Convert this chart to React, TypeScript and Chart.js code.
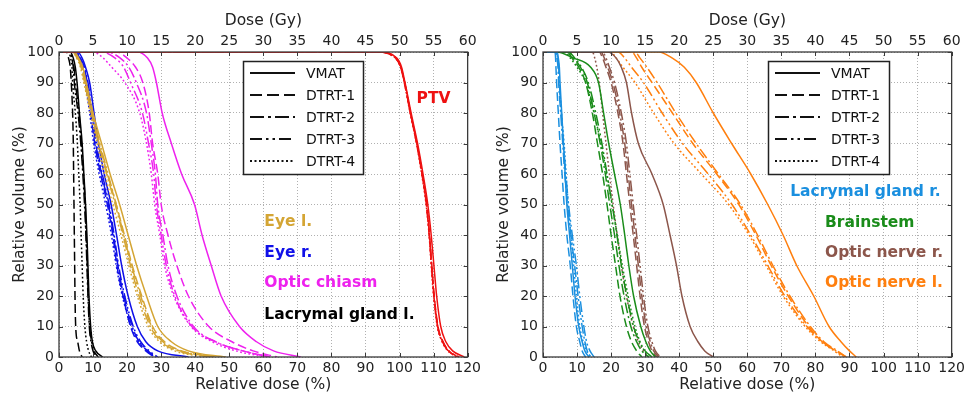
import React, { useEffect, useRef } from 'react';
import { Chart, registerables } from 'chart.js';

Chart.register(...registerables);

const FONT = '"DejaVu Sans", "Liberation Sans", sans-serif';

// ---------- DATA ----------
// Relative volume levels (%) at which doses are read, shared by every curve
const VOLUME_LEVELS = [100, 100, 98, 95, 90, 80, 70, 60, 50, 40, 30, 20, 10, 5, 2, 0];
const PLANS = ['VMAT', 'DTRT-1', 'DTRT-2', 'DTRT-3', 'DTRT-4'];
const X_TICKS_REL = [0, 120, 10];
const X_TICKS_GY = [0, 60, 5];
const Y_TICKS = [0, 100, 10];

// Relative dose (%) for each plan (rows in PLANS order)
const PTV_DOSE = [
  [0, 94, 99.2, 100.6, 101.6, 103.4, 105.3, 106.9, 108.3, 109.3, 110.1, 110.9, 112.1, 113.6, 115.6, 119],
  [0, 93, 98.8, 100.3, 101.4, 103.2, 105.0, 106.6, 107.9, 108.8, 109.5, 110.2, 111.3, 112.8, 114.5, 117.5],
  [0, 93.5, 99.0, 100.4, 101.5, 103.2, 105.1, 106.6, 107.9, 108.7, 109.4, 110.1, 111.2, 112.6, 114.3, 117],
  [0, 93.5, 99.0, 100.4, 101.5, 103.2, 105.1, 106.7, 108.0, 108.8, 109.4, 110.1, 111.2, 112.7, 114.5, 117.5],
  [0, 93, 98.8, 100.3, 101.4, 103.1, 105.0, 106.5, 107.8, 108.7, 109.3, 110.0, 111.1, 112.5, 114.2, 117],
];
const EYE_L_DOSE = [
  [0, 4.5, 5.8, 7.0, 8.0, 10.0, 12.5, 15.0, 17.8, 20.3, 22.8, 25.7, 29.0, 33.0, 38.0, 49.0],
  [0, 4.0, 5.3, 6.5, 7.5, 9.5, 11.8, 14.2, 16.8, 19.2, 21.5, 24.3, 27.5, 31.0, 36.0, 46.0],
  [0, 4.2, 5.5, 6.7, 7.7, 9.6, 11.6, 14.0, 16.5, 18.8, 21.0, 23.5, 26.8, 30.0, 35.0, 45.0],
  [0, 4.3, 5.6, 6.8, 7.8, 9.8, 12.0, 14.4, 16.8, 19.0, 21.3, 24.0, 27.2, 30.5, 35.5, 45.5],
  [0, 4.0, 5.2, 6.3, 7.3, 9.2, 11.2, 13.4, 15.8, 18.2, 20.5, 23.0, 26.2, 29.5, 34.0, 43.0],
];
const EYE_R_DOSE = [
  [0, 5.5, 6.8, 7.8, 9.0, 10.3, 11.6, 13.3, 15.3, 16.9, 18.4, 20.3, 23.0, 25.5, 29.0, 38.0],
  [0, 4.5, 5.8, 7.0, 8.0, 9.3, 10.5, 12.2, 14.2, 15.8, 17.0, 18.8, 21.0, 23.0, 25.5, 28.0],
  [0, 4.8, 6.1, 7.3, 8.3, 9.6, 10.8, 12.5, 14.5, 16.0, 17.3, 19.0, 21.5, 23.5, 26.0, 28.5],
  [0, 5.0, 6.3, 7.5, 8.5, 9.8, 11.0, 12.7, 14.7, 16.2, 17.5, 19.3, 21.8, 24.0, 26.5, 29.0],
  [0, 4.3, 5.6, 6.8, 7.7, 9.0, 10.2, 11.8, 13.7, 15.4, 16.8, 18.6, 21.2, 23.5, 26.0, 28.0],
];
const CHIASM_DOSE = [
  [0, 23, 26, 27.5, 28.6, 30.3, 33.0, 36.0, 39.8, 42.0, 44.7, 47.6, 53.0, 58.0, 63.0, 71.0],
  [0, 17, 20, 22.5, 24.6, 26.5, 27.5, 29.0, 30.0, 32.0, 34.6, 38.0, 44.0, 50.8, 57.0, 64.0],
  [0, 14, 18, 20.5, 22.7, 25.7, 27.1, 28.3, 29.0, 30.5, 32.0, 34.6, 39.5, 46.0, 54.0, 62.0],
  [0, 12.5, 16.5, 19.0, 21.0, 24.5, 26.3, 27.8, 28.6, 30.0, 31.5, 34.0, 39.0, 46.0, 54.0, 62.0],
  [0, 10, 13, 15.5, 19.3, 23.7, 25.7, 27.1, 28.1, 29.6, 31.0, 33.7, 38.8, 45.0, 52.0, 61.0],
];
const LACRIMAL_L_DOSE = [
  [0, 3.3, 4.2, 4.8, 5.3, 6.0, 6.8, 7.3, 7.8, 8.2, 8.5, 8.8, 9.3, 9.8, 10.8, 12.8],
  [0, 2.2, 2.8, 3.3, 3.6, 4.0, 4.2, 4.3, 4.4, 4.5, 4.6, 4.7, 4.9, 5.5, 6.0, 6.8],
  [0, 3.0, 3.7, 4.2, 4.5, 5.6, 6.4, 7.0, 7.5, 7.9, 8.2, 8.5, 8.9, 9.4, 10.0, 11.0],
  [0, 3.2, 3.9, 4.4, 4.8, 5.9, 6.6, 7.2, 7.7, 8.0, 8.3, 8.6, 9.0, 9.6, 10.3, 11.5],
  [0, 2.8, 3.4, 3.8, 4.0, 4.8, 5.4, 5.8, 6.2, 6.5, 6.8, 7.1, 7.6, 8.1, 8.7, 9.5],
];
const LACRIMAL_R_DOSE = [
  [0, 4.2, 4.5, 4.8, 5.0, 5.5, 6.0, 6.5, 7.0, 7.8, 8.6, 9.4, 10.5, 11.5, 12.3, 13.5],
  [0, 3.5, 3.7, 3.8, 4.0, 4.5, 5.0, 5.6, 6.2, 7.0, 8.0, 8.8, 9.8, 10.8, 11.5, 12.5],
  [0, 3.8, 4.1, 4.4, 4.6, 5.2, 5.8, 6.4, 7.2, 8.2, 9.3, 10.3, 11.5, 12.3, 13.0, 14.0],
  [0, 4.0, 4.3, 4.6, 4.8, 5.4, 6.0, 6.7, 7.5, 8.6, 9.8, 10.8, 12.0, 12.8, 13.8, 15.0],
  [0, 4.0, 4.3, 4.6, 4.8, 5.4, 6.2, 6.8, 7.4, 8.2, 9.0, 9.8, 10.8, 11.8, 12.8, 14.0],
];
const BRAINSTEM_DOSE = [
  [0, 4.0, 9.0, 14.0, 16.3, 17.8, 19.3, 21.0, 22.7, 24.0, 25.2, 26.6, 28.7, 30.2, 31.5, 33.0],
  [0, 7.0, 8.5, 10.5, 12.5, 14.5, 16.0, 17.5, 18.8, 20.0, 21.3, 22.6, 24.5, 26.0, 27.5, 29.0],
  [0, 7.5, 9.0, 11.0, 13.0, 15.0, 16.8, 18.3, 19.6, 21.0, 22.3, 23.8, 25.8, 27.5, 29.0, 31.0],
  [0, 7.5, 9.3, 11.3, 13.3, 15.5, 17.3, 18.8, 20.3, 21.7, 23.0, 24.6, 26.6, 28.3, 30.0, 32.0],
  [0, 6.5, 8.0, 10.0, 12.5, 15.0, 17.0, 18.7, 20.3, 21.8, 23.3, 25.0, 27.0, 28.5, 29.8, 31.0],
];
const OPTIC_NERVE_R_DOSE = [
  [0, 19, 21.5, 23.0, 24.5, 26.0, 28.0, 32.0, 35.3, 37.3, 39.2, 40.8, 43.2, 45.5, 47.5, 50.0],
  [0, 16.5, 17.5, 18.5, 20.0, 22.0, 23.5, 24.5, 25.5, 26.5, 27.5, 28.5, 29.8, 31.0, 32.0, 33.5],
  [0, 17.0, 18.0, 19.0, 20.5, 22.5, 24.0, 25.0, 26.0, 27.0, 28.0, 29.0, 30.3, 31.5, 32.5, 34.0],
  [0, 17.5, 18.5, 19.5, 21.0, 23.0, 24.5, 25.5, 26.5, 27.5, 28.5, 29.5, 30.8, 32.0, 33.0, 34.5],
  [0, 14.5, 15.2, 15.8, 16.5, 17.5, 18.5, 19.5, 20.6, 21.8, 23.0, 24.5, 26.5, 28.0, 29.5, 31.0],
];
const OPTIC_NERVE_L_DOSE = [
  [0, 34, 38, 41.5, 45.0, 50.0, 55.4, 61.0, 66.0, 70.5, 74.5, 79.5, 84.0, 87.5, 90.0, 92.0],
  [0, 26, 27.5, 29, 32, 38, 44, 51, 57.5, 62.5, 67, 72, 78, 82, 86, 89],
  [0, 27, 28.5, 30.5, 33.5, 39, 45, 51.5, 58, 63, 67.5, 72.5, 78.5, 82.5, 86.5, 89],
  [0, 22, 24, 26, 29.5, 35, 41, 48.5, 55.5, 61, 66, 71, 77.5, 82, 86, 89],
  [0, 20, 21.5, 23.5, 27, 32.5, 38.5, 46.5, 54.5, 60.5, 65.5, 70.5, 77, 81.5, 85.5, 88],
];

// ---------- STYLE ----------
const PLAN_DASH: number[][] = [[], [9, 4], [11, 3, 2, 3], [11, 3, 2, 3, 2, 3], [1.8, 2.4]];
const LEGEND_DASH: number[][] = [[], [12, 5], [14, 4, 3, 4], [12, 4, 2.5, 4, 2.5, 4], [2, 2.5]];

type Structure = { name: string; color: string; doses: number[][]; lx: number; ly: number };

const LEFT_STRUCTS: Structure[] = [
  { name: 'PTV', color: '#ee1111', doses: PTV_DOSE, lx: 105.0, ly: 84.6 },
  { name: 'Eye l.', color: '#d4a534', doses: EYE_L_DOSE, lx: 60.3, ly: 44.3 },
  { name: 'Eye r.', color: '#1010e8', doses: EYE_R_DOSE, lx: 60.3, ly: 34.1 },
  { name: 'Optic chiasm', color: '#ee22ee', doses: CHIASM_DOSE, lx: 60.3, ly: 24.3 },
  { name: 'Lacrymal gland l.', color: '#000000', doses: LACRIMAL_L_DOSE, lx: 60.3, ly: 13.8 },
];
const RIGHT_STRUCTS: Structure[] = [
  { name: 'Lacrymal gland r.', color: '#1a8fdf', doses: LACRIMAL_R_DOSE, lx: 72.6, ly: 54.1 },
  { name: 'Brainstem', color: '#1a8c1a', doses: BRAINSTEM_DOSE, lx: 82.8, ly: 44.1 },
  { name: 'Optic nerve r.', color: '#8c564b', doses: OPTIC_NERVE_R_DOSE, lx: 82.8, ly: 34.1 },
  { name: 'Optic nerve l.', color: '#ff7f0e', doses: OPTIC_NERVE_L_DOSE, lx: 82.8, ly: 24.3 },
];

const overlayPlugin = {
  id: 'dvhOverlay',
  afterDatasetsDraw(chart: any, _args: any, opts: any) {
    const { ctx, chartArea: a, scales } = chart;
    ctx.save();
    // frame
    ctx.strokeStyle = '#3a3a3a';
    ctx.lineWidth = 1.3;
    ctx.setLineDash([]);
    ctx.strokeRect(a.left, a.top, a.right - a.left, a.bottom - a.top);
    // inward ticks
    ctx.lineWidth = 1;
    ctx.beginPath();
    for (let v = X_TICKS_REL[0]; v <= X_TICKS_REL[1]; v += X_TICKS_REL[2]) {
      const px = Math.round(scales.x.getPixelForValue(v)) + 0.5;
      ctx.moveTo(px, a.bottom); ctx.lineTo(px, a.bottom - 4);
      ctx.moveTo(px, a.top); ctx.lineTo(px, a.top + 4);
    }
    for (let v = Y_TICKS[0]; v <= Y_TICKS[1]; v += Y_TICKS[2]) {
      const py = Math.round(scales.y.getPixelForValue(v)) + 0.5;
      ctx.moveTo(a.left, py); ctx.lineTo(a.left + 4, py);
      ctx.moveTo(a.right, py); ctx.lineTo(a.right - 4, py);
    }
    ctx.stroke();

    // structure labels
    ctx.font = `bold 15.5px ${FONT}`;
    ctx.textBaseline = 'middle';
    ctx.textAlign = 'left';
    (opts.structs as Structure[]).forEach((s) => {
      ctx.fillStyle = s.color;
      ctx.fillText(s.name, scales.x.getPixelForValue(s.lx), scales.y.getPixelForValue(s.ly));
    });

    // legend
    const bx = opts.legendLeft, by = opts.legendTop, bw = opts.legendWidth, bh = 113;
    ctx.fillStyle = '#ffffff';
    ctx.fillRect(bx, by, bw, bh);
    ctx.strokeStyle = '#222222';
    ctx.lineWidth = 1.5;
    ctx.strokeRect(bx + 0.5, by + 0.5, bw, bh);
    ctx.font = `14px ${FONT}`;
    ctx.fillStyle = '#111111';
    PLANS.forEach((p, i) => {
      const y = by + 12 + i * 22;
      ctx.strokeStyle = '#111111';
      ctx.lineWidth = 2;
      ctx.setLineDash(LEGEND_DASH[i]);
      ctx.beginPath();
      ctx.moveTo(bx + 7, y);
      ctx.lineTo(bx + 52, y);
      ctx.stroke();
      ctx.setLineDash([]);
      ctx.fillText(p, bx + 63, y + 1);
    });
    ctx.restore();
  },
};

function DVHChart({ structs, legendLeft, legendWidth }: { structs: Structure[]; legendLeft: number; legendWidth: number }) {
  const ref = useRef<HTMLCanvasElement | null>(null);
  useEffect(() => {
    if (!ref.current) return;
    const datasets: any[] = [];
    structs.forEach((s) =>
      s.doses.forEach((d, pi) =>
        datasets.push({
          label: `${s.name} ${PLANS[pi]}`,
          data: d.map((x, i) => ({ x, y: VOLUME_LEVELS[i] })),
          borderColor: s.color,
          borderWidth: 1.5,
          borderDash: PLAN_DASH[pi],
          pointRadius: 0,
          fill: false,
          cubicInterpolationMode: 'monotone',
        })
      )
    );
    const tickFont = { family: FONT, size: 14 };
    const titleFont = { family: FONT, size: 15.5 };
    const chart = new Chart(ref.current, {
      type: 'line',
      data: { datasets },
      plugins: [overlayPlugin],
      options: {
        animation: false,
        responsive: false,
        layout: { padding: { left: 0, right: 15, top: 0, bottom: 0 } },
        plugins: {
          legend: { display: false },
          tooltip: { enabled: false },
          dvhOverlay: { structs, legendLeft, legendTop: 61, legendWidth },
        } as any,
        scales: {
          x: {
            type: 'linear',
            position: 'bottom',
            min: X_TICKS_REL[0],
            max: X_TICKS_REL[1],
            ticks: { stepSize: X_TICKS_REL[2], font: tickFont, color: '#222', padding: 3, maxRotation: 0, autoSkip: false },
            grid: { color: '#b0b0b0', lineWidth: 1, drawTicks: false },
            border: { display: false, dash: [1, 2] },
            title: { display: true, text: 'Relative dose (%)', font: titleFont, color: '#222', padding: { top: 0, bottom: 3 } },
            afterFit: (s: any) => { s.height = 40; },
          },
          x2: {
            type: 'linear',
            position: 'top',
            min: X_TICKS_GY[0],
            max: X_TICKS_GY[1],
            ticks: { stepSize: X_TICKS_GY[2], font: tickFont, color: '#222', padding: 2, maxRotation: 0, autoSkip: false },
            grid: { display: false, drawTicks: false },
            border: { display: false },
            title: { display: true, text: 'Dose (Gy)', font: titleFont, color: '#222', padding: { top: 12, bottom: 0 } },
            afterFit: (s: any) => { s.height = 52; },
          },
          y: {
            type: 'linear',
            min: Y_TICKS[0],
            max: Y_TICKS[1],
            ticks: { stepSize: Y_TICKS[2], font: tickFont, color: '#222', padding: 5 },
            grid: { color: '#b0b0b0', lineWidth: 1, drawTicks: false },
            border: { display: false, dash: [1, 2] },
            title: { display: true, text: 'Relative volume (%)', font: titleFont, color: '#222', padding: { top: 11, bottom: 0 } },
            afterFit: (s: any) => { s.width = 59; },
          },
        },
      } as any,
    });
    return () => chart.destroy();
  }, [structs, legendLeft, legendWidth]);
  return <canvas ref={ref} width={484} height={397} style={{ display: 'block' }} />;
}

export default function App() {
  return (
    <div style={{ position: 'fixed', left: 0, top: 0, width: 968, height: 397, display: 'flex', background: '#fff' }}>
      <DVHChart structs={LEFT_STRUCTS} legendLeft={243} legendWidth={120} />
      <DVHChart structs={RIGHT_STRUCTS} legendLeft={284} legendWidth={121} />
    </div>
  );
}
